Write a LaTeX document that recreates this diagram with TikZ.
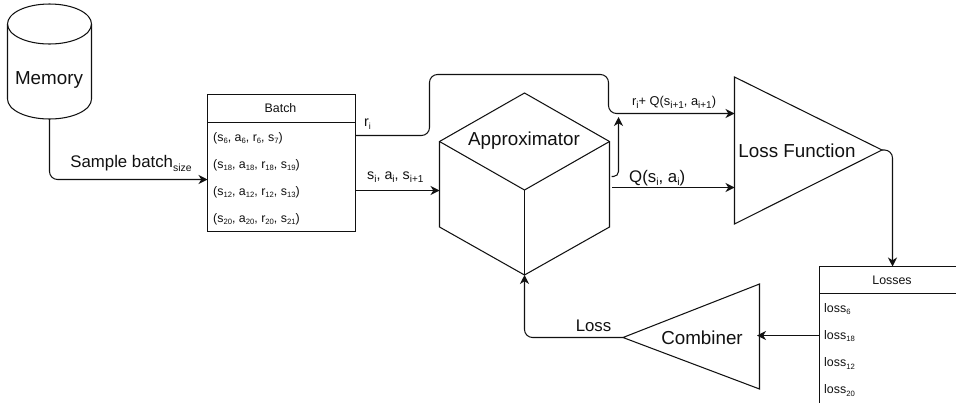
\documentclass[tikz,border=0pt]{standalone}
\usepackage{fontspec}
\setmainfont{Liberation Sans}
\usetikzlibrary{arrows.meta}
\newcommand\sbs[1]{\raisebox{-.38ex}{\scalebox{.62}{#1}}}
\newcommand\sbm[1]{\raisebox{-.36ex}{\scalebox{.7}{#1}}}
\newcommand\sbl[1]{\raisebox{-.34ex}{\scalebox{.78}{#1}}}
\newcommand\fs[1]{\fontsize{#1}{#1}\selectfont}
\definecolor{ink}{HTML}{111111}
\tikzset{
  line/.style={draw=ink,line width=1.05pt,line join=miter},
  conn/.style={line,-{Stealth[length=9pt,width=9pt,inset=2.8pt]},rounded corners=8pt},
  big/.style={text=ink,font=\fs{18.8},inner sep=0pt},
  mid/.style={text=ink,font=\fs{16.8},inner sep=0pt},
  lab/.style={text=ink,font=\fs{14.3},inner sep=0pt},
  small/.style={text=ink,font=\fs{12.4},inner sep=0pt},
  row/.style={text=ink,font=\fs{12.4},inner sep=0pt,anchor=west},
  tablebox/.style={line,minimum width=148pt,minimum height=137pt,inner sep=0pt,outer sep=0pt,anchor=north west}
}
\begin{document}
\begin{tikzpicture}[x=1pt,y=-1pt]
\clip (0,0) rectangle (956,402);
\useasboundingbox (0,0) rectangle (956,402);
\fill[white] (0,0) rectangle (956,402);

% Memory
\draw[line] (7.5,24) .. controls (7.5,13) and (26,4) .. (49.5,4) .. controls (73,4) and (91.5,13) .. (91.5,24)
  -- (91.5,99) .. controls (91.5,110) and (73,119) .. (49.5,119) .. controls (26,119) and (7.5,110) .. (7.5,99) -- cycle;
\draw[line] (7.5,24) .. controls (7.5,35) and (26,44) .. (49.5,44) .. controls (73,44) and (91.5,35) .. (91.5,24);
\node[big] (memory) at (49,80) {Memory};
\coordinate (membottom) at (49.5,119);

% Batch
\node[tablebox] (batch) at (207.5,94.5) {};
\draw[line] (207.5,122.5) -- (355.5,122.5);
\node[small] (batchtitle) at (280.5,108.5) {Batch};
\node[row] (b1) at (213,138) {(s\sbs{6}, a\sbs{6}, r\sbs{6}, s\sbs{7})};
\node[row] (b2) at (213,165) {(s\sbs{18}, a\sbs{18}, r\sbs{18}, s\sbs{19})};
\node[row] (b3) at (213,192) {(s\sbs{12}, a\sbs{12}, r\sbs{12}, s\sbs{13})};
\node[row] (b4) at (213,219) {(s\sbs{20}, a\sbs{20}, r\sbs{20}, s\sbs{21})};
\coordinate (batchin) at (207.5,179.5);
\coordinate (batchr) at (355.5,135.5);
\coordinate (batchs) at (355.5,190.5);

% Approximator cube
\coordinate (ctop) at (524.5,93);
\coordinate (cleft) at (439.5,141.5);
\coordinate (cright) at (609.5,141.5);
\coordinate (cmid) at (524.5,190);
\coordinate (clb) at (439.5,227);
\coordinate (crb) at (609.5,227);
\coordinate (cbot) at (524.5,275);
\draw[line] (ctop) -- (cright) -- (crb) -- (cbot) -- (clb) -- (cleft) -- cycle;
\draw[line] (cleft) -- (cmid) -- (cright);
\draw[line] (cmid) -- (cbot);
\node[big] (approx) at (524,140.5) {Approximator};
\coordinate (cin) at (439.5,190.5);
\coordinate (cout1) at (611.5,176.5);
\coordinate (cout2) at (612,187.5);
\coordinate (junction) at (618.5,117);

% Loss function
\coordinate (la) at (734.5,77);
\coordinate (lb) at (734.5,224);
\coordinate (lapex) at (882,150);
\draw[line] (la) -- (lapex) -- (lb) -- cycle;
\node[big] (lossfn) at (797,150.5) {Loss Function};
\coordinate (lin1) at (734.5,113.5);
\coordinate (lin2) at (734.5,187.5);

% Losses
\node[tablebox] (losses) at (819.5,266.5) {};
\draw[line] (819.5,293.5) -- (967.5,293.5);
\node[small] (lossestitle) at (892,280.5) {Losses};
\node[row] (l1) at (824,309) {loss\sbs{6}};
\node[row] (l2) at (824,336) {loss\sbs{18}};
\node[row] (l3) at (824,363.5) {loss\sbs{12}};
\node[row] (l4) at (824,390.5) {loss\sbs{20}};
\coordinate (lossestop) at (892.5,266.5);
\coordinate (lossesleft) at (819.5,335.5);

% Combiner
\coordinate (ca) at (759.5,284);
\coordinate (cb) at (759.5,389);
\coordinate (capex) at (623,337.5);
\draw[line] (ca) -- (capex) -- (cb) -- cycle;
\node[big] (combiner) at (702,337.5) {Combiner};
\coordinate (combin) at (757,335.5);

% Connectors
\draw[conn] (membottom) |- (batchin);
\draw[conn] (batchr) -- (429.5,135.5) -- (429.5,74.5) -- (608.5,74.5) -- (608.5,113.5) -- (lin1);
\draw[conn] (batchs) -- (cin);
\draw[conn,rounded corners=5pt] (cout1) -| (junction);
\draw[conn] (cout2) -- (lin2);
\draw[conn,rounded corners=8pt] (lapex) -| (lossestop);
\draw[conn] (lossesleft) -- (combin);
\draw[conn] (capex) -| (cbot);

% Labels
\node[mid] (samplelab) at (131,163.5) {Sample batch\sbs{size}};
\node[lab,anchor=west] (rlab) at (364,124) {r\sbs{i}};
\node[lab,anchor=west] (slab) at (367,177) {s\sbm{i}, a\sbm{i}, s\sbm{i+1}};
\node[text=ink,font=\fs{12.8},inner sep=0pt,anchor=west] (tlab) at (632,102.5) {r\sbl{i}+ Q(s\sbl{i+1}, a\sbl{i+1})};
\node[mid,anchor=west] (qlab) at (629,178) {Q(s\sbs{i}, a\sbs{i})};
\node[mid] (losslab) at (593.5,325.5) {Loss};
\end{tikzpicture}
\end{document}
